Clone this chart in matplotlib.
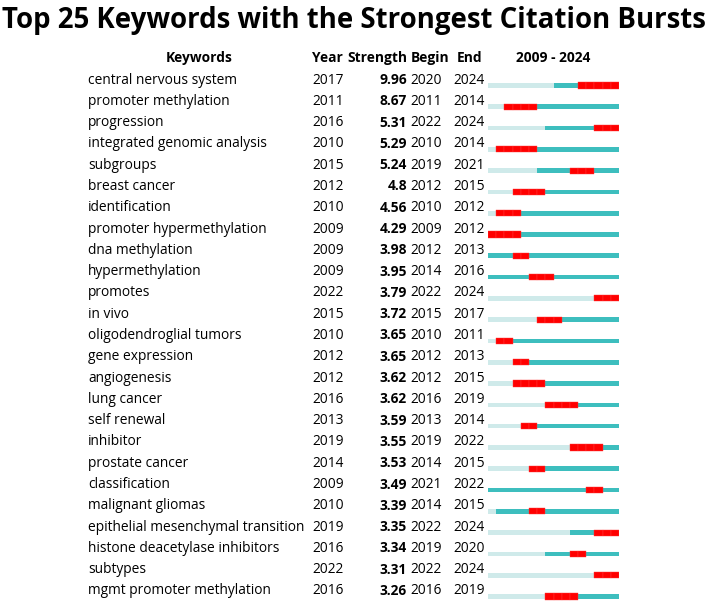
import numpy as np
import matplotlib.pyplot as plt

keywords = ["central nervous system", "promoter methylation", "progression",
            "integrated genomic analysis", "subgroups", "breast cancer",
            "identification", "promoter hypermethylation", "dna methylation",
            "hypermethylation", "promotes", "in vivo", "oligodendroglial tumors",
            "gene expression", "angiogenesis", "lung cancer", "self renewal",
            "inhibitor", "prostate cancer", "classification", "malignant gliomas",
            "epithelial mesenchymal transition", "histone deacetylase inhibitors",
            "subtypes", "mgmt promoter methylation"]
years = [2017, 2011, 2016, 2010, 2015, 2012, 2010, 2009, 2009, 2009, 2022, 2015, 2010,
         2012, 2012, 2016, 2013, 2019, 2014, 2009, 2010, 2019, 2016, 2022, 2016]
strength = [9.96, 8.67, 5.31, 5.29, 5.24, 4.8, 4.56, 4.29, 3.98, 3.95, 3.79, 3.72, 3.65,
            3.65, 3.62, 3.62, 3.59, 3.55, 3.53, 3.49, 3.39, 3.35, 3.34, 3.31, 3.26]
begins = [2020, 2011, 2022, 2010, 2019, 2012, 2010, 2009, 2012, 2014, 2022, 2015, 2010,
          2012, 2012, 2016, 2013, 2019, 2014, 2021, 2014, 2022, 2019, 2022, 2016]
ends = [2024, 2014, 2024, 2014, 2021, 2015, 2012, 2012, 2013, 2016, 2024, 2017, 2011,
        2013, 2015, 2019, 2014, 2022, 2015, 2022, 2015, 2024, 2020, 2024, 2019]
first_year, last_year = 2009, 2024

plt.rcParams['font.family'] = ['Open Sans', 'DejaVu Sans']

W, H = 708, 601
fig = plt.figure(figsize=(W / 100, H / 100), dpi=100)
row_h = 21.29
text_y0 = 80      # pixel centre of first text row
bar_y0 = 85.5     # pixel centre of first bar

ax = fig.add_axes([0, 0, 1, 1])
ax.set_xlim(0, W)
ax.set_ylim((H - text_y0) / row_h, -text_y0 / row_h)
ax.axis('off')

fs = 9.9
hdr = -(text_y0 - 58.3) / row_h
ax.text(199, hdr, "Keywords", ha='center', va='center', fontsize=fs, fontweight='bold')
ax.text(312.5, hdr, "Year", ha='left', va='center', fontsize=fs, fontweight='bold')
ax.text(407, hdr, "Strength", ha='right', va='center', fontsize=fs, fontweight='bold')
ax.text(410.5, hdr, "Begin", ha='left', va='center', fontsize=fs, fontweight='bold')
ax.text(456.5, hdr, "End", ha='left', va='center', fontsize=fs, fontweight='bold')
ax.text(553.5, hdr, f"{first_year} - {last_year}", ha='center', va='center',
        fontsize=fs, fontweight='bold')

for i in range(len(keywords)):
    ax.text(88, i, keywords[i], ha='left', va='center', fontsize=fs)
    ax.text(312.5, i, str(years[i]), ha='left', va='center', fontsize=fs)
    ax.text(407, i, f"{strength[i]:g}", ha='right', va='center', fontsize=fs, fontweight='bold')
    ax.text(410.5, i, str(begins[i]), ha='left', va='center', fontsize=fs)
    ax.text(453, i, str(ends[i]), ha='left', va='center', fontsize=fs)

# title, fitted to the figure width
title = fig.text(0.5, 1 - 28 / H, "Top 25 Keywords with the Strongest Citation Bursts",
                 ha='center', va='baseline', fontsize=20, fontweight='bold')
fig.canvas.draw()
tw = title.get_window_extent().width
title.set_fontsize(20 * 704 / tw)

# burst timeline
ax2 = fig.add_axes([488 / W, 0, 131 / W, 1])
ax2.set_xlim(first_year, last_year + 1)
ax2.set_ylim((H - bar_y0) / row_h, -bar_y0 / row_h)
ax2.axis('off')

light = '#cfeaea'
teal = '#3dbebe'
red, red_e = '#ff0000', '#ff3a3a'

for i in range(len(keywords)):
    ax2.barh(i, years[i] - first_year, left=first_year, height=0.22, color=light, linewidth=0)
    ax2.barh(i, last_year + 1 - years[i], left=years[i], height=0.22, color=teal, linewidth=0)
    for yr in range(begins[i], ends[i] + 1):
        ax2.barh(i, 1, left=yr, height=0.29, color=red, edgecolor=red_e, linewidth=0.3)

fig.savefig("out.png", dpi=100)
